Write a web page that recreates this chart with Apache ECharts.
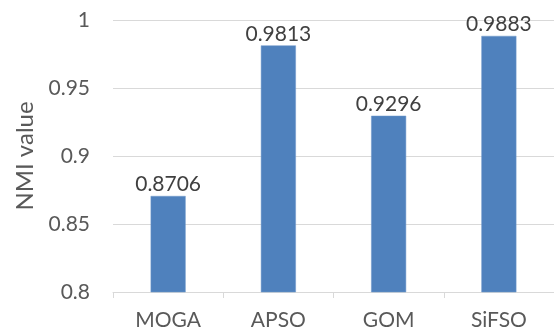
<!DOCTYPE html>
<html>
<head>
<meta charset="utf-8">
<script src="https://cdn.jsdelivr.net/npm/echarts@6/dist/echarts.min.js"></script>
<style>
  html, body { margin: 0; padding: 0; background: #ffffff; }
  #chart { width: 554px; height: 333px; }
</style>
</head>
<body>
<div id="chart"></div>
<script>
// NMI scores per clustering method
const methods = ['MOGA', 'APSO', 'GOM', 'SiFSO'];
const nmiValues = [0.8706, 0.9813, 0.9296, 0.9883];
const yTicks = { min: 0.8, max: 1, step: 0.05 };

const FONT = 'Lato';
const chart = echarts.init(document.getElementById('chart'), null, { renderer: 'canvas' });

chart.setOption({
  animation: false,
  backgroundColor: '#ffffff',
  grid: { left: 113, right: 0, top: 20, bottom: 41, containLabel: false },
  xAxis: {
    type: 'category',
    data: methods,
    boundaryGap: true,
    axisLine: { show: true, lineStyle: { color: '#d9d9d9', width: 1 } },
    axisTick: { show: true, alignWithLabel: false, length: 6, lineStyle: { color: '#d9d9d9' } },
    axisLabel: { color: '#595959', fontFamily: FONT, fontSize: 21, margin: 18 }
  },
  yAxis: {
    type: 'value',
    min: yTicks.min,
    max: yTicks.max,
    interval: yTicks.step,
    name: 'NMI value',
    nameLocation: 'middle',
    nameGap: 76,
    nameRotate: 90,
    nameTextStyle: { color: '#595959', fontFamily: FONT, fontSize: 24 },
    axisLine: { show: false },
    axisTick: { show: false },
    axisLabel: {
      color: '#595959', fontFamily: FONT, fontSize: 21, margin: 23,
      formatter: v => String(parseFloat(v.toFixed(2)))
    },
    splitLine: { show: true, lineStyle: { color: '#d9d9d9', width: 1 } }
  },
  series: [{
    type: 'bar',
    data: nmiValues,
    barWidth: 35,
    itemStyle: { color: '#4f81bd', borderColor: '#6f98cb', borderWidth: 0.5 },
    label: {
      show: true,
      position: 'top',
      distance: 1,
      color: '#404040',
      fontFamily: FONT,
      fontSize: 21,
      formatter: p => p.value.toFixed(4)
    }
  }]
});
</script>
</body>
</html>
